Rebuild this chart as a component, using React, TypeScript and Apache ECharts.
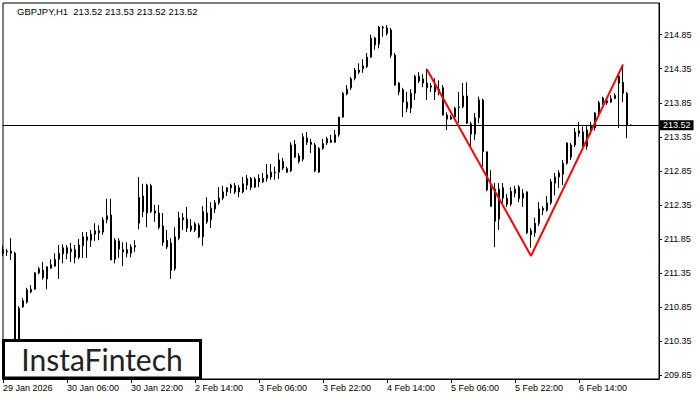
import React, { useEffect, useRef } from "react";
import * as echarts from "echarts";

const chartTitle = "GBPJPY,H1  213.52 213.53 213.52 213.52";
const logoText = "InstaFintech";

// [open, close, low, high]
const candles: number[][] = [
  [211.69, 211.64, 211.60, 211.75],
  [211.66, 211.67, 211.60, 211.70],
  [211.67, 211.64, 211.54, 211.86],
  [211.64, 209.89, 209.84, 211.66],
  [209.89, 210.83, 209.86, 210.86],
  [210.85, 210.94, 210.84, 210.98],
  [210.92, 211.10, 210.90, 211.13],
  [211.07, 211.11, 211.05, 211.17],
  [211.11, 211.35, 211.10, 211.36],
  [211.35, 211.41, 211.33, 211.44],
  [211.39, 211.28, 211.25, 211.51],
  [211.26, 211.44, 211.11, 211.45],
  [211.42, 211.47, 211.41, 211.55],
  [211.45, 211.55, 211.44, 211.64],
  [211.55, 211.64, 211.26, 211.76],
  [211.63, 211.72, 211.49, 211.77],
  [211.72, 211.64, 211.55, 211.76],
  [211.66, 211.70, 211.51, 211.79],
  [211.69, 211.58, 211.49, 211.76],
  [211.58, 211.76, 211.55, 211.85],
  [211.75, 211.88, 211.57, 211.95],
  [211.88, 211.83, 211.57, 211.95],
  [211.83, 211.92, 211.73, 211.98],
  [211.92, 211.97, 211.82, 212.08],
  [211.97, 211.94, 211.83, 212.05],
  [211.95, 212.13, 211.91, 212.17],
  [212.13, 212.19, 212.08, 212.44],
  [212.20, 211.54, 211.54, 212.44],
  [211.55, 211.83, 211.49, 211.86],
  [211.82, 211.70, 211.57, 211.86],
  [211.69, 211.66, 211.45, 211.80],
  [211.69, 211.64, 211.58, 211.80],
  [211.64, 211.73, 211.58, 211.77],
  [211.73, 211.75, 211.66, 211.83],
  [212.08, 212.46, 211.99, 212.76],
  [212.48, 212.25, 212.17, 212.66],
  [212.23, 212.64, 212.02, 212.66],
  [212.63, 212.25, 212.23, 212.66],
  [212.26, 212.23, 212.10, 212.35],
  [212.23, 212.02, 211.99, 212.35],
  [212.04, 211.80, 211.75, 212.23],
  [211.83, 211.73, 211.70, 211.98],
  [211.79, 211.39, 211.26, 211.86],
  [211.41, 211.88, 211.38, 212.02],
  [211.86, 212.16, 211.83, 212.25],
  [212.13, 212.16, 211.98, 212.23],
  [212.14, 212.01, 211.95, 212.32],
  [212.04, 211.98, 211.95, 212.14],
  [211.98, 212.07, 211.95, 212.10],
  [212.05, 211.88, 211.86, 212.08],
  [211.88, 212.25, 211.75, 212.33],
  [212.23, 212.10, 212.07, 212.46],
  [212.13, 212.30, 212.01, 212.39],
  [212.29, 212.38, 212.23, 212.42],
  [212.38, 212.45, 212.35, 212.61],
  [212.45, 212.54, 212.42, 212.63],
  [212.54, 212.60, 212.48, 212.61],
  [212.60, 212.64, 212.52, 212.66],
  [212.63, 212.54, 212.51, 212.67],
  [212.60, 212.54, 212.46, 212.64],
  [212.54, 212.66, 212.52, 212.76],
  [212.64, 212.74, 212.57, 212.79],
  [212.74, 212.61, 212.57, 212.76],
  [212.61, 212.73, 212.60, 212.76],
  [212.74, 212.69, 212.61, 212.80],
  [212.69, 212.74, 212.67, 212.82],
  [212.74, 212.79, 212.69, 212.95],
  [212.76, 212.83, 212.72, 212.95],
  [212.83, 212.82, 212.72, 212.91],
  [212.83, 213.01, 212.73, 213.11],
  [212.99, 212.89, 212.86, 213.04],
  [212.88, 212.83, 212.82, 212.91],
  [212.85, 213.23, 212.83, 213.27],
  [213.24, 213.05, 213.04, 213.30],
  [213.07, 212.99, 212.96, 213.11],
  [213.02, 213.35, 212.99, 213.40],
  [213.33, 213.27, 213.23, 213.42],
  [213.27, 213.24, 213.11, 213.32],
  [213.23, 212.85, 212.83, 213.26],
  [212.83, 213.18, 212.82, 213.20],
  [213.18, 213.25, 213.16, 213.32],
  [213.26, 213.32, 213.23, 213.35],
  [213.30, 213.27, 213.26, 213.38],
  [213.27, 213.38, 213.26, 213.45],
  [213.38, 213.64, 213.35, 213.64],
  [213.64, 213.99, 213.63, 214.01],
  [213.98, 214.05, 213.96, 214.11],
  [214.07, 214.20, 214.04, 214.23],
  [214.21, 214.33, 214.18, 214.36],
  [214.33, 214.30, 214.27, 214.43],
  [214.35, 214.39, 214.29, 214.49],
  [214.38, 214.52, 214.36, 214.58],
  [214.52, 214.80, 214.51, 214.85],
  [214.80, 214.70, 214.63, 214.82],
  [214.71, 214.96, 214.65, 214.98],
  [214.95, 214.96, 214.82, 214.98],
  [214.95, 214.87, 214.84, 214.99],
  [214.92, 214.55, 214.51, 214.95],
  [214.55, 214.11, 214.10, 214.58],
  [214.14, 214.01, 213.96, 214.15],
  [214.04, 213.86, 213.64, 214.07],
  [213.86, 213.77, 213.71, 214.01],
  [213.77, 213.99, 213.70, 214.05],
  [213.99, 214.24, 213.89, 214.26],
  [214.24, 214.17, 214.14, 214.30],
  [214.20, 214.14, 214.08, 214.27],
  [214.14, 214.07, 213.89, 214.35],
  [214.08, 214.10, 214.01, 214.14],
  [214.08, 214.01, 213.89, 214.21],
  [214.01, 214.05, 213.96, 214.18],
  [214.07, 213.67, 213.66, 214.11],
  [213.67, 213.61, 213.45, 213.71],
  [213.61, 213.64, 213.60, 213.67],
  [213.64, 213.77, 213.61, 213.79],
  [213.78, 213.79, 213.55, 214.01],
  [213.79, 213.95, 213.77, 214.14],
  [213.95, 213.55, 213.54, 214.15],
  [213.54, 213.39, 213.20, 213.57],
  [213.39, 213.63, 213.30, 213.70],
  [213.63, 213.89, 213.55, 213.94],
  [213.89, 213.13, 212.91, 213.91],
  [213.13, 212.57, 212.55, 213.13],
  [212.60, 212.33, 212.32, 212.86],
  [212.58, 212.11, 211.73, 212.67],
  [212.14, 212.58, 211.98, 212.67],
  [212.60, 212.45, 212.38, 212.67],
  [212.45, 212.36, 212.32, 212.51],
  [212.36, 212.55, 212.33, 212.61],
  [212.52, 212.58, 212.46, 212.63],
  [212.61, 212.44, 212.39, 212.64],
  [212.45, 212.52, 212.32, 212.58],
  [212.54, 211.94, 211.92, 212.55],
  [211.97, 211.91, 211.72, 212.01],
  [211.94, 212.08, 211.88, 212.16],
  [212.08, 212.29, 212.04, 212.39],
  [212.27, 212.30, 212.20, 212.33],
  [212.27, 212.38, 212.25, 212.48],
  [212.38, 212.69, 212.35, 212.73],
  [212.67, 212.76, 212.49, 212.82],
  [212.76, 212.82, 212.60, 212.86],
  [212.80, 212.96, 212.64, 213.01],
  [212.96, 213.26, 212.94, 213.27],
  [213.23, 213.05, 213.01, 213.26],
  [213.23, 213.42, 213.20, 213.48],
  [213.40, 213.44, 213.35, 213.57],
  [213.42, 213.21, 213.18, 213.50],
  [213.21, 213.45, 213.16, 213.52],
  [213.44, 213.52, 213.38, 213.57],
  [213.48, 213.70, 213.44, 213.71],
  [213.70, 213.85, 213.67, 213.88],
  [213.85, 213.92, 213.82, 213.94],
  [213.88, 213.85, 213.82, 213.91],
  [213.86, 213.91, 213.85, 213.96],
  [213.91, 213.96, 213.91, 213.99],
  [214.24, 214.14, 213.48, 214.29],
  [214.15, 213.99, 213.86, 214.41],
  [213.99, 213.52, 213.33, 214.01],
  [213.52, 213.52, 213.52, 213.53],
];

const xTickLabels = [
  "29 Jan 2026",
  "30 Jan 06:00",
  "30 Jan 22:00",
  "2 Feb 14:00",
  "3 Feb 06:00",
  "3 Feb 22:00",
  "4 Feb 14:00",
  "5 Feb 06:00",
  "5 Feb 22:00",
  "6 Feb 14:00",
];
const xTickStep = 16;
const emptyBarsRight = 7;

const yTicks = [209.85, 210.35, 210.85, 211.35, 211.85, 212.35, 212.85, 213.35, 213.85, 214.35, 214.85];
const yMin = 209.791;
const yMax = 215.316;

const currentPrice = 213.52;

const patternIndex = [106, 132, 155];
const patternPrice = [214.34, 211.6, 214.41];

const FONT = "'Liberation Sans', Arial, sans-serif";

export default function App() {
  const ref = useRef<HTMLDivElement>(null);

  useEffect(() => {
    document.body.style.margin = "0";
    if (!ref.current) return;
    const chart = echarts.init(ref.current, undefined, { renderer: "svg" });

    const categories = Array.from({ length: candles.length + emptyBarsRight }, (_, i) => String(i));
    const showTick = (i: number) => i % xTickStep === 0 && i / xTickStep < xTickLabels.length;

    chart.setOption({
      animation: false,
      backgroundColor: "#fff",
      grid: {
        left: 3,
        right: 41,
        top: 3,
        bottom: 21,
        show: true,
        borderColor: "#000",
        borderWidth: 1,
        backgroundColor: "#fff",
      },
      xAxis: {
        type: "category",
        data: categories,
        boundaryGap: false,
        axisLine: { show: true, lineStyle: { color: "#000", width: 1 } },
        axisTick: { show: true, interval: (i: number) => showTick(i), length: 4, lineStyle: { color: "#000" } },
        axisLabel: {
          interval: (i: number) => showTick(i),
          formatter: (_v: string, i: number) => xTickLabels[i / xTickStep] ?? "",
          align: "left",
          margin: 4,
          color: "#000",
          fontFamily: FONT,
          fontSize: 9,
        },
        splitLine: { show: false },
      },
      yAxis: {
        type: "value",
        position: "right",
        min: yMin,
        max: yMax,
        scale: true,
        axisLine: { show: true, lineStyle: { color: "#000", width: 1 } },
        axisTick: { show: true, customValues: yTicks, length: 3, lineStyle: { color: "#000" } },
        axisLabel: {
          customValues: yTicks,
          formatter: (v: number) => v.toFixed(2),
          margin: 5,
          color: "#000",
          fontFamily: FONT,
          fontSize: 9,
        },
        splitLine: { show: false },
      },
      series: [
        {
          type: "candlestick",
          data: candles,
          barWidth: 2,
          itemStyle: {
            color: "#fff",
            color0: "#000",
            borderColor: "#000",
            borderColor0: "#000",
            borderWidth: 1,
          },
          markLine: {
            silent: true,
            symbol: ["none", "none"],
            data: [{ yAxis: currentPrice }],
            lineStyle: { color: "#000", width: 1, type: "solid" },
            label: {
              show: true,
              position: "end",
              formatter: currentPrice.toFixed(2),
              backgroundColor: "#000",
              color: "#fff",
              padding: [1, 3, 0, 3],
              distance: 1,
              fontFamily: FONT,
              fontSize: 9,
            },
          },
        },
        {
          type: "line",
          data: patternIndex.map((x, i) => [x, patternPrice[i]]),
          symbol: "none",
          lineStyle: { color: "#ff0000", width: 2 },
          z: 5,
          silent: true,
        },
      ],
      graphic: [
        {
          type: "text",
          x: 17,
          y: 11,
          style: {
            text: chartTitle,
            font: `9.5px ${FONT}`,
            fill: "#000",
            verticalAlign: "middle",
          },
          z: 50,
        },
        {
          type: "rect",
          shape: { x: 3.5, y: 340.5, width: 197, height: 37.5 },
          style: { fill: "#fff", stroke: "#000", lineWidth: 3 },
          z: 100,
        },
        {
          type: "text",
          x: 102,
          y: 359,
          style: {
            text: logoText,
            font: "30px Lato, 'Open Sans', sans-serif",
            fill: "#222",
            align: "center",
            verticalAlign: "middle",
          },
          z: 101,
        },
      ],
    });

    return () => chart.dispose();
  }, []);

  return <div ref={ref} style={{ width: 700, height: 400 }} />;
}
